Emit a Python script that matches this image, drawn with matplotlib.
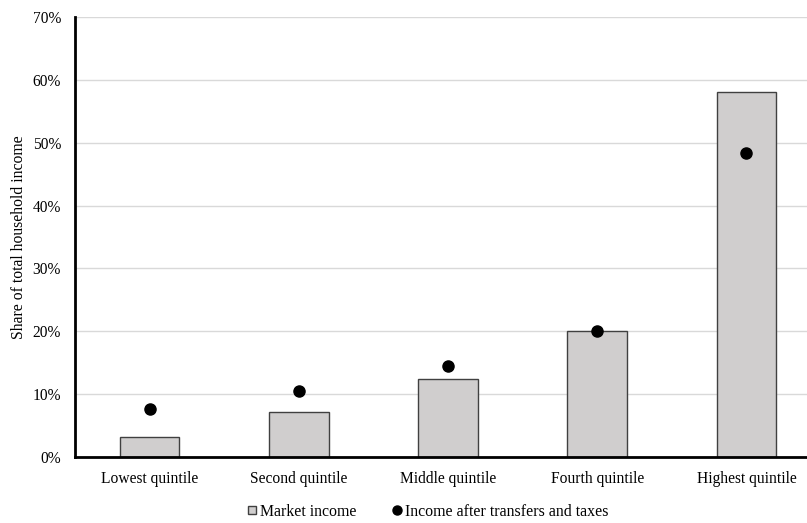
import matplotlib.pyplot as plt
from matplotlib.ticker import PercentFormatter
from matplotlib.lines import Line2D

plt.rcParams["font.family"] = ["Liberation Serif", "DejaVu Serif"]

# ── DATA ─────────────────────────────────────────────
quintiles = ["Lowest quintile", "Second quintile", "Middle quintile",
             "Fourth quintile", "Highest quintile"]
market_income = [3.2, 7.2, 12.4, 20.0, 58.1]
after_transfers = [7.6, 10.6, 14.5, 20.1, 48.3]

# ── PLOT ─────────────────────────────────────────────
fig = plt.figure(figsize=(8.07, 5.23), dpi=100)
ax = fig.add_axes([75 / 807, 1 - 457.3 / 523, 732 / 807, (457.3 - 16.7) / 523])

x = range(len(quintiles))
ax.bar(x, market_income, width=0.40, color="#d0cece", edgecolor="#404040",
       linewidth=1.0, zorder=2)
ax.plot(x, after_transfers, "o", color="black", markersize=8, zorder=3)

ax.set_xlim(-0.5, 4.406)
ax.set_ylim(0, 70)
ax.set_yticks(range(0, 71, 10))
ax.yaxis.set_major_formatter(PercentFormatter(decimals=0))
ax.set_xticks(list(x))
ax.set_xticklabels(quintiles)
ax.tick_params(length=0, labelsize=11.2)
ax.tick_params(axis="x", pad=10)
ax.tick_params(axis="y", pad=10)
ax.set_ylabel("Share of total household income", fontsize=11.3, labelpad=4)

ax.grid(axis="y", color="#d9d9d9", linewidth=1.0, zorder=0)
ax.set_axisbelow(True)
for s in ["top", "right"]:
    ax.spines[s].set_visible(False)
ax.spines["left"].set_linewidth(2)
ax.spines["bottom"].set_linewidth(2)
ax.spines["bottom"].set_zorder(4)

handles = [
    Line2D([], [], marker="s", linestyle="none", markersize=5.5,
           markerfacecolor="#d0cece", markeredgecolor="#404040"),
    Line2D([], [], marker="o", linestyle="none", markersize=6.5, color="black"),
]
fig.legend(handles, ["Market income", "Income after transfers and taxes"],
           loc="center", bbox_to_anchor=(428 / 807, 1 - 512 / 523), ncol=2,
           frameon=False, fontsize=11.4, handletextpad=0.2, columnspacing=2.3,
           handlelength=0.6, borderpad=0, borderaxespad=0)

fig.savefig("out.png", dpi=100)
